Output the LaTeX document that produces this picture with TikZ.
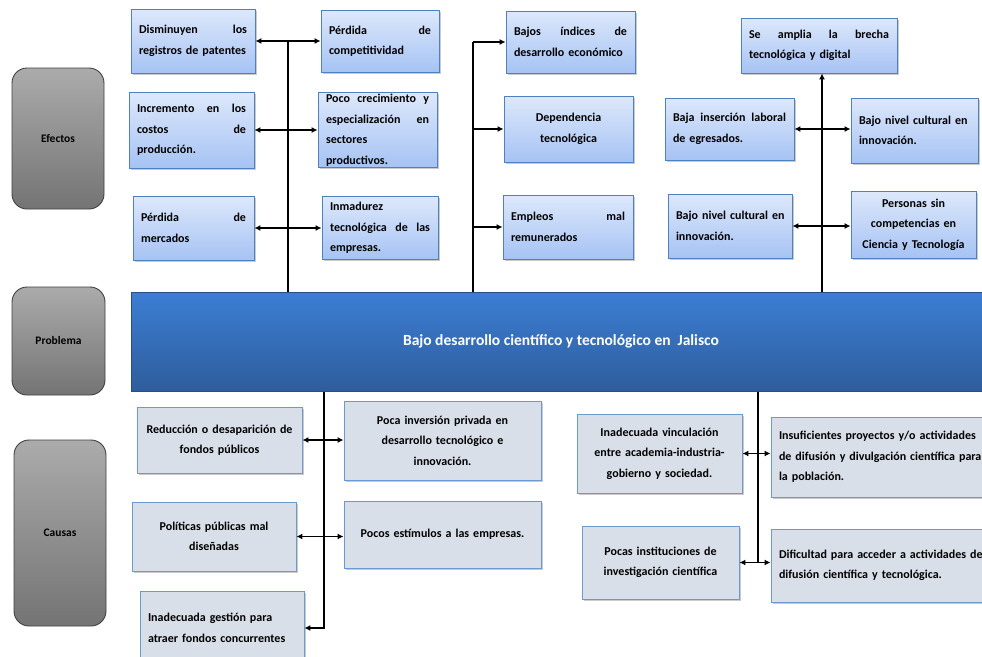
\documentclass[tikz,border=0pt]{standalone}
\usepackage{fontspec}
\setmainfont{Carlito}
\usetikzlibrary{arrows.meta,shadows}
\definecolor{efTop}{HTML}{DDE8FB}
\definecolor{efBot}{HTML}{A6C3F4}
\definecolor{efLine}{HTML}{4F81BD}
\definecolor{caFill}{HTML}{D9DFE9}
\definecolor{caLine}{HTML}{6C9AD0}
\definecolor{grTop}{HTML}{ABABAB}
\definecolor{grBot}{HTML}{747474}
\definecolor{prTop}{HTML}{3C7ED4}
\definecolor{prBot}{HTML}{2E5D9C}
\tikzset{
  sz/.style 2 args={minimum width=#1, minimum height=#2, text width={#1-16}},
  caja/.style={rectangle, inner xsep=8pt, inner ysep=1pt, line width=0.9pt,
    font=\fontsize{12}{20.5}\selectfont\bfseries,
    drop shadow={shadow xshift=1.5pt, shadow yshift=-1.5pt, opacity=0.35, fill=black!60}},
  efecto/.style={caja, draw=efLine, top color=efTop, bottom color=efBot, align=left},
  causa/.style={caja, draw=caLine, fill=caFill, align=center},
  etiqueta/.style={rectangle, rounded corners=15pt, draw=black!75, line width=0.9pt,
    top color=grTop, bottom color=grBot, font=\fontsize{11.5}{14}\selectfont\bfseries},
  flecha/.style={line width=1.6pt, -{Latex[length=6pt,width=6pt]}},
  doble/.style={line width=1.6pt, {Latex[length=6pt,width=6pt]}-{Latex[length=6pt,width=6pt]}},
  tronco/.style={line width=1.6pt}
}
\begin{document}
\begin{tikzpicture}[x=1pt, y=-1pt]
    \useasboundingbox (0,0) rectangle (982,656);
    % etiquetas laterales
    \node[etiqueta, minimum width=92, minimum height=141] (efe) at (58,138.5) {Efectos};
    \node[etiqueta, minimum width=93, minimum height=108] (pro) at (58.5,341) {Problema};
    \node[etiqueta, minimum width=92, minimum height=186] (cau) at (60,533) {Causas};
    % problema central
    \node[rectangle, draw=prBot!85!black, line width=1pt, top color=prTop, bottom color=prBot,
        minimum width=860, minimum height=99, text=white,
        font=\fontsize{15.5}{18}\selectfont\bfseries] (prob) at (561,341.5)
        {Bajo desarrollo científico y tecnológico en\ \ Jalisco};
    % efectos
    \node[efecto, sz={124}{64}] (dism) at (193,41) {Disminuyen\hfill los\\registros de patentes};
    \node[efecto, sz={118}{62}] (comp) at (380,41) {Pérdida\hfill de\\competitividad};
    \node[efecto, sz={125}{76}] (incr) at (191.5,130) {Incremento\hfill en\hfill los\\costos\hfill de\\producción.};
    \node[efecto, sz={119}{75}] (poco) at (377.5,130) {Poco\hfill crecimiento\hfill y\\especialización\hfill en\\sectores\\productivos.};
    \node[efecto, sz={121}{64}] (merc) at (193.5,228) {Pérdida\hfill de\\mercados};
    \node[efecto, sz={116}{63}] (inma) at (380,228) {Inmadurez\\tecnológica\hfill de\hfill las\\empresas.};
    \node[efecto, sz={129}{62}] (bajos) at (570.5,42) {Bajos\hfill índices\hfill de\\desarrollo económico};
    \node[efecto, sz={129}{66}, align=center] (depe) at (568.5,129) {Dependencia\\tecnológica};
    \node[efecto, sz={130}{64}] (empl) at (568,227) {Empleos\hfill mal\\remunerados};
    \node[efecto, sz={156}{55}] (brec) at (819,45.5) {Se\hfill amplia\hfill la\hfill brecha\\tecnológica y digital};
    \node[efecto, sz={129}{62}] (inse) at (729.5,129) {Baja\hfill inserción\hfill laboral\\de egresados.};
    \node[efecto, sz={127}{65}] (cul1) at (914.5,130.5) {\mbox{Bajo nivel cultural en}\\innovación.};
    \node[efecto, sz={124}{64}] (cul2) at (730,226) {\mbox{Bajo nivel cultural en}\\innovación.};
    \node[efecto, sz={125}{67}, align=center] (pers) at (913.5,224.5) {Personas sin\\competencias en\\Ciencia y Tecnología};
    % causas
    \node[causa, sz={165}{66}] (redu) at (219.5,440) {Reducción o desaparición de\\fondos públicos};
    \node[causa, sz={197}{79}] (inve) at (442.5,440.5) {Poca inversión privada en\\desarrollo tecnológico e\\innovación.};
    \node[causa, sz={164}{69}] (poli) at (214,536.5) {Políticas públicas mal\\diseñadas};
    \node[causa, sz={197}{67}] (esti) at (442.5,534.5) {Pocos estímulos a las empresas.};
    \node[causa, sz={164}{74}, align=left] (gest) at (222,628) {Inadecuada gestión para\\atraer fondos concurrentes};
    \node[causa, sz={165}{79}] (vinc) at (659.5,453.5) {Inadecuada vinculación\\entre academia-industria-\\gobierno y sociedad.};
    \node[causa, sz={219}{80}, align=left] (insu) at (880.5,457) {\mbox{Insuficientes proyectos y/o actividades}\\\mbox{de difusión y divulgación científica para}\\la población.};
    \node[causa, sz={157}{73}] (inst) at (660.5,562.5) {Pocas instituciones de\\investigación científica};
    \node[causa, sz={219}{73}, align=left] (difi) at (880.5,565.5) {\mbox{Dificultad para acceder a actividades de}\\difusión científica y tecnológica.};
    % troncos
    \coordinate (t1) at (288,0);
    \coordinate (t2) at (473,0);
    \coordinate (t3) at (822,0);
    \coordinate (t4) at (324,0);
    \coordinate (t5) at (758,0);
    \draw[tronco] (dism.east -| t1) -- (prob.north -| t1);
    \draw[tronco] (bajos.west -| t2) -- (prob.north -| t2);
    \draw[flecha] (prob.north -| t3) -- (brec.south -| t3);
    \draw[flecha] (prob.south -| t4) |- (gest.east);
    \draw[tronco] (prob.south -| t5) -- (inst.east -| t5);
    \foreach \a/\b in {dism/comp, incr/poco, merc/inma, inse/cul1, cul2/pers, redu/inve, poli/esti, vinc/insu, inst/difi} {
        \draw[doble] (\a.east) -- (\a.east -| \b.west);
    }
    \foreach \b in {bajos, depe, empl} {
        \draw[flecha] (\b.west -| t2) -- (\b.west);
    }
\end{tikzpicture}
\end{document}
